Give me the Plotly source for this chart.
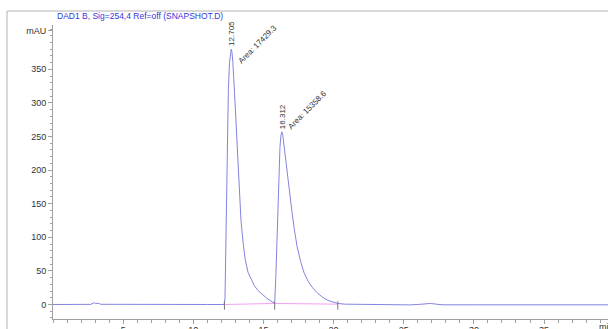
import plotly.graph_objects as go

# ---- data ----
time_min = [0.0, 1.5, 2.7, 2.85, 2.95, 3.05, 3.2, 3.4, 5.0, 7.0, 9.0, 11.0, 12.0, 12.2,
            12.26, 12.30, 12.35, 12.42, 12.50, 12.58, 12.65, 12.705, 12.76, 12.82, 12.94,
            13.06, 13.17, 13.29, 13.40, 13.55, 13.70, 13.90, 14.10, 14.35, 14.60, 14.90,
            15.20, 15.45, 15.65, 15.80,
            15.88, 15.95, 16.02, 16.10, 16.18, 16.25, 16.312, 16.38, 16.47, 16.60, 16.75,
            16.90, 17.05, 17.20, 17.40, 17.65, 17.90, 18.20, 18.50, 18.80, 19.20, 19.60,
            20.00, 20.30, 20.80, 22.0, 24.0, 25.4, 26.0, 26.5, 26.9, 27.3, 27.8, 30.0,
            35.0, 40.0]
signal_mau = [0.0, 0.0, 0.2, 1.8, 2.6, 1.2, 2.0, 0.3, 0.0, 0.0, 0.0, 0.0, 0.0, 0.0,
              10, 60, 150, 250, 320, 360, 377, 380, 375, 360, 315,
              265, 215, 165, 125, 92, 67, 48, 38, 28, 21, 15,
              10, 6, 3.5, 2.0,
              40, 90, 140, 195, 235, 252, 257, 252, 235, 215, 185,
              160, 135, 112, 86, 64, 47, 34, 25, 18, 11, 6,
              3.0, 1.5, 0.5, 0.0, -0.2, -0.6, 0.0, 1.0, 1.5, 0.5, -0.5, -0.5,
              -0.5, -0.5]

peak_rt = [12.705, 16.312]
peak_height = [380, 257]
peak_area = ["17429.3", "15358.6"]
peak_start = [12.22, 15.80]
peak_end = [15.80, 20.30]
base_start = [0.0, 1.5]
base_end = [1.5, 0.5]

x_ticks = [5, 10, 15, 20, 25, 30, 35, 40]
y_ticks = [0, 50, 100, 150, 200, 250, 300, 350]
y_unit = "mAU"
title_text = "DAD1 B, Sig=254,4 Ref=off (SNAPSHOT.D)"

LINE = "#8484e0"
PINK = "#f2a0f0"
AXIS = "#a0a0a0"
TXT = "#333333"
FONT = "Liberation Sans, Arial, sans-serif"
AREA_LABEL_SHIFT = [(2, -19), (2, -2)]   # pixel offsets of the area labels

fig = go.Figure()

# baselines of the integrated peaks
for s, e, bs, be in zip(peak_start, peak_end, base_start, base_end):
    fig.add_trace(go.Scatter(x=[s, e], y=[bs, be], mode="lines",
                             line=dict(color=PINK, width=1), hoverinfo="skip",
                             showlegend=False))

# signal
fig.add_trace(go.Scatter(x=time_min, y=signal_mau, mode="lines",
                         line=dict(color=LINE, width=1), showlegend=False))

# integration tick marks at peak boundaries
bounds = sorted(set(peak_start + peak_end))
fig.add_trace(go.Scatter(x=bounds, y=[-1.5] * len(bounds), mode="markers",
                         marker=dict(symbol="line-ns", size=6,
                                     line=dict(color="#777777", width=1)),
                         showlegend=False, hoverinfo="skip"))

annotations = []
for (rt, h, area), (dx, dy) in zip(zip(peak_rt, peak_height, peak_area), AREA_LABEL_SHIFT):
    annotations.append(dict(x=rt, y=h, text=f"{rt:.3f}", textangle=-90,
                            xanchor="center", yanchor="bottom", showarrow=False,
                            font=dict(family=FONT, size=8, color=TXT), yshift=1))
    annotations.append(dict(x=rt, y=h, text=f"Area: {area}", textangle=-45,
                            xanchor="left", yanchor="bottom", showarrow=False,
                            font=dict(family=FONT, size=8, color=TXT),
                            xshift=dx, yshift=dy))

annotations.append(dict(xref="paper", yref="paper", x=0.004, y=1, text=title_text,
                        xanchor="left", yanchor="middle", yshift=9, showarrow=False,
                        font=dict(family=FONT, size=8.5, color="#3535dd")))
annotations.append(dict(xref="paper", yref="paper", x=0.98, y=0, text="min",
                        xanchor="left", yanchor="top", yshift=-1, showarrow=False,
                        font=dict(family=FONT, size=9, color=TXT)))

W_PLOT = 555.0
H_PLOT = 294.0
fx = lambda px: (px - 53) / W_PLOT
fy = lambda py: (319 - py) / H_PLOT

shapes = [
    dict(type="line", xref="paper", yref="paper", x0=fx(7), x1=fx(640), y0=fy(11), y1=fy(11),
         line=dict(color="#cccccc", width=1.5)),
    dict(type="line", xref="paper", yref="paper", x0=fx(7), x1=fx(7), y0=fy(11), y1=fy(340),
         line=dict(color="#cccccc", width=1.5)),
]

fig.update_layout(
    width=608, height=329,
    margin=dict(l=53, r=0, t=25, b=10),
    paper_bgcolor="white", plot_bgcolor="white",
    annotations=annotations, shapes=shapes,
    xaxis=dict(range=[0, 39.56], tickvals=x_ticks, ticks="outside", ticklen=4,
               automargin=False, ticklabelstandoff=-2,
               tickcolor=AXIS, showgrid=False, zeroline=False, showline=True,
               linecolor=AXIS, linewidth=1,
               tickfont=dict(family=FONT, size=9, color=TXT),
               minor=dict(dtick=1, tick0=0, ticks="outside", ticklen=3,
                          tickcolor=AXIS, showgrid=False)),
    yaxis=dict(range=[-21.6, 416], tickvals=y_ticks + [408],
               ticktext=[str(v) for v in y_ticks] + [y_unit],
               automargin=False,
               ticks="outside", ticklen=4, tickcolor=AXIS, showgrid=False,
               zeroline=False, showline=True, linecolor=AXIS, linewidth=1,
               tickfont=dict(family=FONT, size=9, color=TXT),
               minor=dict(dtick=10, tick0=0, ticks="outside", ticklen=2,
                          tickcolor=AXIS, showgrid=False)),
)

fig.write_html("out.html", config={"displayModeBar": False},
               post_script="document.body.style.margin='0';document.body.style.overflow='hidden';")
